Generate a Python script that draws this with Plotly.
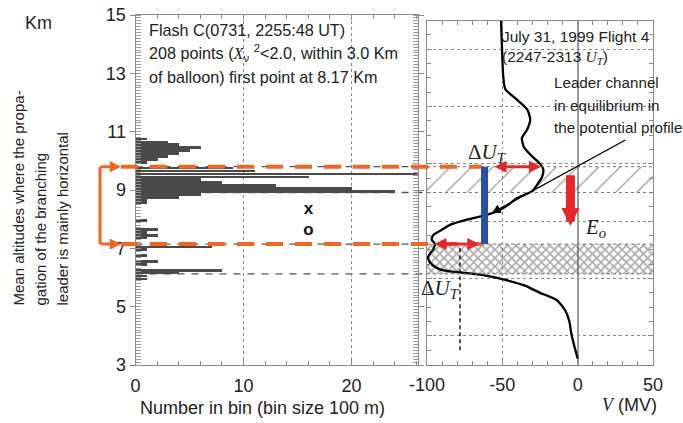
import plotly.graph_objects as go

# ---------------- data ----------------
# Left panel: histogram of source altitudes (bin centres, km) and counts per 100 m bin
bin_alt_km = [10.75, 10.65, 10.55, 10.45, 10.35, 10.25, 10.15, 10.05, 9.95,
              9.75, 9.65, 9.55, 9.45, 9.35, 9.25, 9.15, 9.05, 8.95, 8.85, 8.75, 8.65, 8.55,
              7.95, 7.65, 7.55, 7.45, 7.35, 7.05, 6.95, 6.75, 6.55, 6.45, 6.25, 6.15, 6.05, 5.95]
bin_counts = [1, 3, 4, 6, 5, 4, 3, 2, 1,
              9, 11, 27, 16, 6, 8, 13, 20, 24, 6, 4, 1, 1,
              1, 2, 1, 2, 1, 7, 1, 1, 2, 1, 8, 4, 1, 1]

# Left panel: two symbol points
symbol_counts = [16, 16]
symbol_alt = [8.34, 7.60]
symbol_text = ["x", "o"]

# Right panel: balloon potential profile V (MV) vs altitude (km)
profile_alt = [15.0, 14.0, 13.05, 12.6, 12.25, 11.9, 11.55, 11.2, 10.9, 10.6, 10.3, 10.0,
               9.8, 9.55, 9.3, 9.05, 8.8, 8.55, 8.38, 8.22, 8.05, 7.87, 7.7, 7.52, 7.36,
               7.2, 7.02, 6.75, 6.55, 6.38, 6.28, 6.2, 6.1, 5.95, 5.75, 5.5, 5.25, 4.9,
               4.5, 4.1, 3.7, 3.2]
profile_v = [-50.9, -50.2, -49.4, -48.0, -40.5, -33.5, -31.5, -33.5, -37.0, -35.8, -31.0, -25.0,
             -22.8, -23.6, -26.5, -30.0, -40.5, -46.5, -52.0, -60.4, -73.7, -84.7, -90.2, -95.8, -96.9,
             -94.7, -95.8, -99.3, -97.9, -94.0, -89.0, -76.0, -61.0, -48.0, -35.0, -25.0, -14.0, -8.4,
             -5.5, -4.3, -2.5, 0.0]

# Right panel tick labels (hyphen minus as in the original)
v_ticks = [-100, -50, 0, 50]
v_tick_labels = ["-100", "-50", "0", "50"]

# Layers (km): upper (hatched) and lower (cross-hatched)
upper_band = [9.0, 9.9]
lower_band = [6.16, 7.2]

leader_v = -61.8                 # blue leader channel bar (MV)
delta_upper_v = [-56.2, -24.3]   # upper ΔU_T arrow span (MV)
delta_lower_v = [-96.0, -65.3]   # lower ΔU_T arrow span (MV)
eo_v = -4.8                      # E_o arrow position (MV)
eo_alt = [9.65, 7.83]            # E_o arrow from / to (km)
dashed_v = -78.1                 # dashed vertical marker (MV)
dashed_alt = [3.5, 7.2]
pointer_from = [32.7, 10.86]     # "Leader channel" pointer start (MV, km)
pointer_to = [-57.1, 8.28]       # pointer tip (MV, km)

# ---------------- layout geometry ----------------
W, H = 683, 423
def px_x(p): return p / W
def px_y(p): return 1 - p / H

xdom1 = [px_x(135.5), px_x(417.5)]
ydom1 = [px_y(365), px_y(15)]
xdom2 = [px_x(427), px_x(653)]
ydom2 = [px_y(364.5), px_y(20.5)]
XR1 = [0, 26.1]
YR = [3, 15]
XR2 = [-100, 50]

def p2x(v): return xdom2[0] + (v - XR2[0]) / (XR2[1] - XR2[0]) * (xdom2[1] - xdom2[0])
def p2y(a): return ydom2[0] + (a - YR[0]) / (YR[1] - YR[0]) * (ydom2[1] - ydom2[0])

ORANGE = "#F26522"
RED = "#E5262A"
BLUE = "#2B4EA2"
SANS = "Liberation Sans, Arial, sans-serif"
SERIF = "Liberation Serif"
TXT = "#222222"

fig = go.Figure()

# histogram bars
fig.add_trace(go.Bar(x=bin_counts, y=bin_alt_km, orientation="h", width=0.09,
                     marker=dict(color="#4a4a4a", line=dict(width=0)),
                     xaxis="x", yaxis="y", showlegend=False))
# symbols
fig.add_trace(go.Scatter(x=symbol_counts, y=symbol_alt, mode="text",
                         text=["<b>%s</b>" % t for t in symbol_text],
                         textfont=dict(size=17, color="#111", family=SANS),
                         xaxis="x", yaxis="y", showlegend=False))

# hatched bands
def band(b, shape, size, sol, fg):
    return go.Scatter(x=[XR2[0], XR2[1], XR2[1], XR2[0], XR2[0]],
                      y=[b[0], b[0], b[1], b[1], b[0]],
                      mode="lines", line=dict(width=0), fill="toself",
                      fillcolor="rgba(255,255,255,0)",
                      fillpattern=dict(shape=shape, size=size, solidity=sol,
                                       fgcolor=fg, bgcolor="rgba(255,255,255,0)"),
                      xaxis="x2", yaxis="y2", showlegend=False, hoverinfo="skip")

fig.add_trace(band(upper_band, "/", 15, 0.08, "#333"))
fig.add_trace(band(lower_band, "x", 6, 0.5, "#555"))

# dashed vertical marker
fig.add_trace(go.Scatter(x=[dashed_v, dashed_v], y=dashed_alt, mode="lines",
                         line=dict(color="black", width=1.3, dash="4px,3px"),
                         xaxis="x2", yaxis="y2", showlegend=False))
# profile
fig.add_trace(go.Scatter(x=profile_v, y=profile_alt, mode="lines",
                         line=dict(color="black", width=2.3, shape="spline", smoothing=0.6),
                         xaxis="x2", yaxis="y2", showlegend=False))

shapes = []
# grey dashed lines at band edges (left panel part below bars, right part above fills)
for lev in [upper_band[1], upper_band[0], lower_band[1], lower_band[0]]:
    shapes.append(dict(type="line", xref="paper", yref="paper", x0=xdom1[0], x1=xdom2[0],
                       y0=p2y(lev), y1=p2y(lev), layer="below",
                       line=dict(color="#555", width=1.3, dash="7px,7px")))
    shapes.append(dict(type="line", xref="paper", yref="paper", x0=xdom2[0], x1=xdom2[1],
                       y0=p2y(lev), y1=p2y(lev), layer="above",
                       line=dict(color="#777", width=1, dash="3px,3px")))

BR_X = px_x(100)
BR_TIP = px_x(121)
ARM_PX = 22
# orange dashed lines
for lev in [upper_band[1], lower_band[1]]:
    shapes.append(dict(type="line", xref="paper", yref="paper", x0=BR_TIP, x1=p2x(leader_v) - 0.004,
                       y0=p2y(lev), y1=p2y(lev), layer="above",
                       line=dict(color=ORANGE, width=4, dash="17px,12px")))
# orange bracket vertical
shapes.append(dict(type="line", xref="paper", yref="paper", x0=BR_X, x1=BR_X,
                   y0=p2y(lower_band[1]), y1=p2y(upper_band[1]),
                   line=dict(color=ORANGE, width=3)))
# blue leader bar
shapes.append(dict(type="line", xref="paper", yref="paper", x0=p2x(leader_v), x1=p2x(leader_v),
                   y0=p2y(lower_band[1]), y1=p2y(upper_band[1]),
                   line=dict(color=BLUE, width=7)))

ann = []
# orange bracket arrowheads
for lev in [upper_band[1], lower_band[1]]:
    ann.append(dict(xref="paper", yref="paper", x=BR_TIP, y=p2y(lev), axref="pixel", ayref="pixel",
                    ax=-ARM_PX, ay=0, text="", showarrow=True, arrowhead=2,
                    arrowsize=0.75, arrowwidth=3, arrowcolor=ORANGE))
# red ΔU_T double arrows
for span, lev in [(delta_upper_v, upper_band[1]), (delta_lower_v, lower_band[1])]:
    ann.append(dict(xref="x2", yref="y2", x=span[1], y=lev, axref="x2", ayref="y2",
                    ax=span[0], ay=lev, text="", showarrow=True, arrowhead=2, arrowside="end+start",
                    arrowsize=0.8, arrowwidth=3, arrowcolor=RED))
# red E_o arrow
ann.append(dict(xref="x2", yref="y2", x=eo_v, y=eo_alt[1], axref="x2", ayref="y2",
                ax=eo_v, ay=eo_alt[0], text="", showarrow=True, arrowhead=2,
                arrowsize=0.4, arrowwidth=9, arrowcolor=RED))
# black pointer
ann.append(dict(xref="x2", yref="y2", x=pointer_to[0], y=pointer_to[1], axref="x2", ayref="y2",
                ax=pointer_from[0], ay=pointer_from[1], text="", showarrow=True, arrowhead=2,
                arrowsize=1.3, arrowwidth=1.4, arrowcolor="black"))

def txt(x, y, s, size=15.5, xanchor="left", yanchor="middle", angle=0, family=SANS):
    ann.append(dict(xref="paper", yref="paper", x=px_x(x), y=px_y(y), text=s, showarrow=False,
                    xanchor=xanchor, yanchor=yanchor, textangle=angle,
                    font=dict(size=size, color=TXT, family=family)))

IT = lambda s: '<span style="font-family:%s"><i>%s</i></span>' % (SERIF, s)

txt(147, 30, "Flash C(0731, 2255:48 UT)", size=16.2)
txt(147, 53, "208 points (" + IT("X") + "<sub>ν</sub> <sup>2</sup>&lt;2.0, within 3.0 Km", size=16.2)
txt(147, 76.5, "of balloon) first point at 8.17 Km", size=16.2)
txt(500, 36, "July 31, 1999 Flight 4", size=15.5)
txt(500, 58, "(2247-2313 " + IT("U") + "<sub>" + IT("T") + "</sub>)", size=15.5)
txt(552, 83, "Leader channel", size=15.2)
txt(552, 105, "in equilibrium in", size=15.2)
txt(552, 127, "the potential profile", size=15.2)
txt(38, 23, "Km", size=18, xanchor="center")
txt(262, 408, "Number in bin (bin size 100 m)", size=18, xanchor="center")
txt(659, 405, IT("V") + " (MV)", size=18, xanchor="right")
txt(18, 308, "Mean altitudes where the propa-", size=15, xanchor="center", yanchor="bottom", angle=-90)
txt(40, 308, "gation of the branching", size=15, xanchor="center", yanchor="bottom", angle=-90)
txt(62, 308, "leader is mainly horizontal", size=15, xanchor="center", yanchor="bottom", angle=-90)
txt(487, 153, "Δ<i>U</i><sub><i>T</i></sub>", size=21, xanchor="center", family=SERIF)
txt(440, 289, "Δ<i>U</i><sub><i>T</i></sub>", size=21, xanchor="center", family=SERIF)
txt(595, 228, "<i>E</i><sub><i>o</i></sub>", size=21, xanchor="center", family=SERIF)

AX = "#8a8a8a"
tickfont = dict(size=18, color=TXT, family=SANS)
fig.update_layout(
    width=W, height=H, margin=dict(l=0, r=0, t=0, b=0, autoexpand=False),
    paper_bgcolor="white", plot_bgcolor="rgba(0,0,0,0)",
    bargap=0, showlegend=False,
    xaxis=dict(domain=xdom1, anchor="y", range=XR1, tickvals=[0, 10, 20], ticks="inside", ticklen=5,
               tickcolor=AX, showline=True, linecolor=AX, linewidth=1, mirror="ticks",
               showgrid=True, gridcolor="#888", griddash="dot", gridwidth=1, zeroline=False,
               tickfont=tickfont, ticklabelstandoff=4, automargin=False,
               minor=dict(dtick=2, ticks="inside", ticklen=4, tickcolor=AX, showgrid=False)),
    yaxis=dict(domain=ydom1, anchor="x", range=YR, tickvals=[3, 5, 7, 9, 11, 13, 15], ticks="outside",
               ticklen=5, tickcolor=AX, showline=True, linecolor=AX, linewidth=1, mirror="ticks",
               showgrid=False, zeroline=False, tickfont=tickfont, automargin=False,
               minor=dict(dtick=0.1, ticks="inside", ticklen=5, tickcolor="#999", showgrid=False)),
    xaxis2=dict(domain=xdom2, anchor="y2", range=XR2, tickvals=v_ticks, ticktext=v_tick_labels,
                ticks="inside",
                ticklen=5, tickcolor=AX, showline=True, linecolor=AX, linewidth=1, mirror="ticks",
                showgrid=True, gridcolor="#888", griddash="dot", gridwidth=1,
                zeroline=True, zerolinecolor="#999", zerolinewidth=1.5,
                tickfont=tickfont, ticklabelstandoff=4, automargin=False,
                minor=dict(dtick=10, ticks="inside", ticklen=4, tickcolor=AX, showgrid=False)),
    yaxis2=dict(domain=ydom2, anchor="x2", range=YR, dtick=2, showticklabels=False, ticks="inside",
                ticklen=5, tickcolor=AX, showline=True, linecolor=AX, linewidth=1, mirror="ticks",
                showgrid=True, gridcolor="#888", griddash="dot", gridwidth=1, zeroline=False,
                automargin=False,
                minor=dict(dtick=0.5, ticks="inside", ticklen=4, tickcolor=AX, showgrid=False)),
    shapes=shapes, annotations=ann,
)

fig.write_html("out.html")
